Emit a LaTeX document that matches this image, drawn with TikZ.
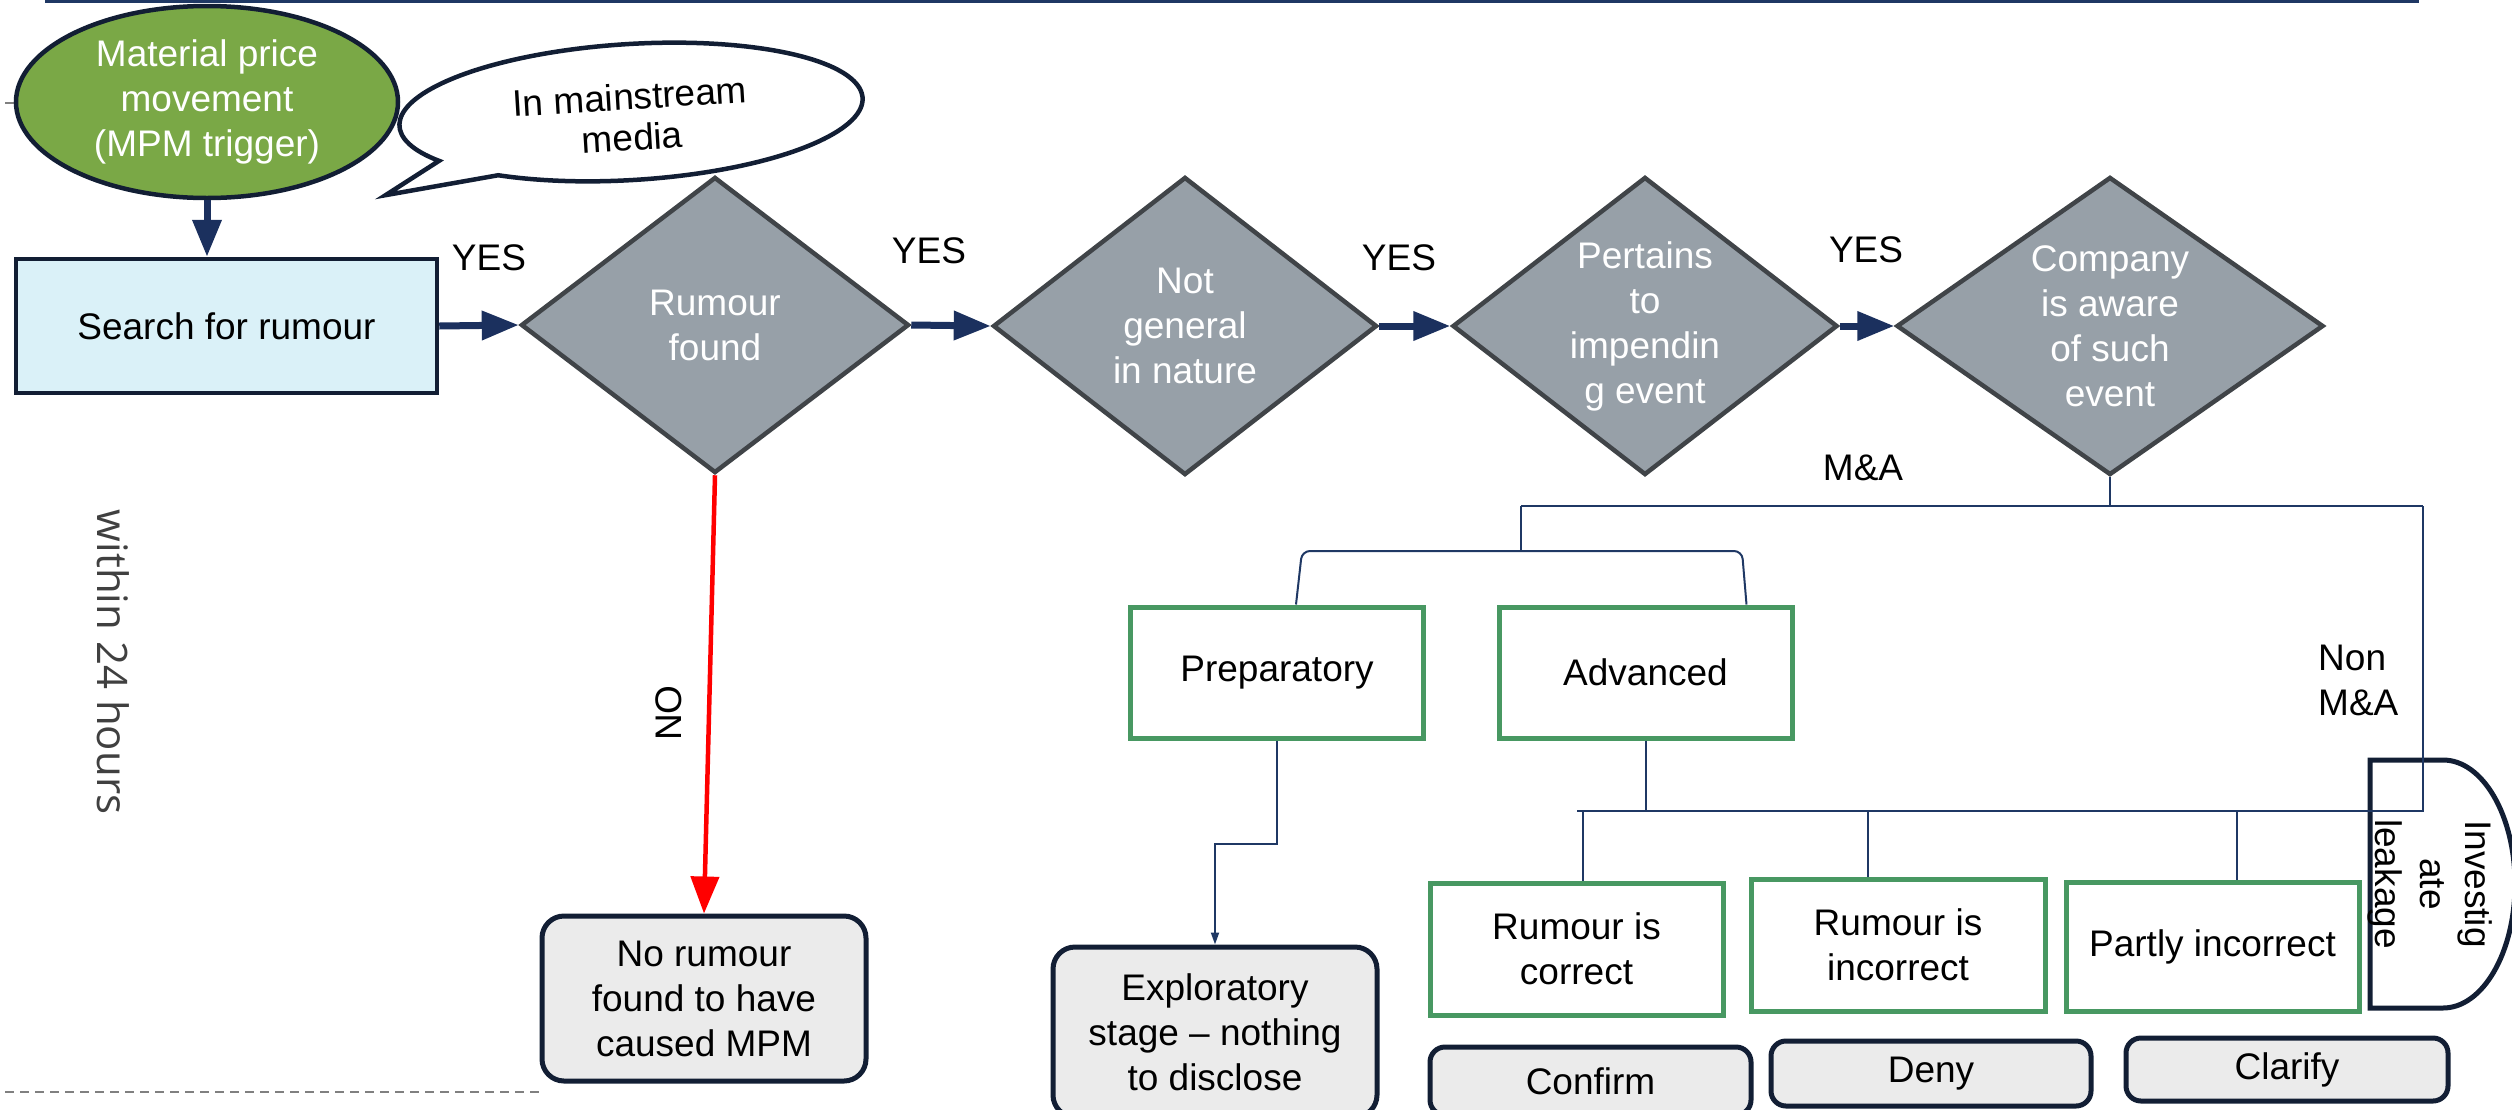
\documentclass[tikz,border=0pt]{standalone}
\usepackage{fontspec}
\setmainfont{Liberation Sans}
\newfontfamily\osans{Open Sans}
\usetikzlibrary{shapes.geometric,arrows.meta}

\definecolor{navy}{RGB}{18,30,52}
\definecolor{arrnavy}{RGB}{27,48,94}
\definecolor{connnavy}{RGB}{31,56,100}
\definecolor{trgreen}{RGB}{122,168,70}
\definecolor{dgrey}{RGB}{151,160,168}
\definecolor{dborder}{RGB}{64,68,72}
\definecolor{cyanfill}{RGB}{218,241,248}
\definecolor{bxgreen}{RGB}{72,152,98}
\definecolor{rfill}{RGB}{235,235,235}
\definecolor{txtgrey}{RGB}{64,64,64}

\begin{document}
\begin{tikzpicture}[x=1pt,y=-1pt,
  every node/.style={font=\fontsize{37}{45}\selectfont, align=center, inner sep=0pt},
  diam/.style={diamond, draw=dborder, line width=4.5pt, fill=dgrey, text=white},
  trigbox/.style={ellipse, draw=navy, line width=4.5pt, fill=trgreen, text=white},
  sbox/.style={rectangle, draw=navy, line width=4.5pt, fill=cyanfill},
  gbox/.style={rectangle, draw=bxgreen, line width=5pt, fill=white, minimum width=293pt},
  rbox/.style={rectangle, rounded corners=22pt, draw=navy, line width=5pt, fill=rfill},
  bigarrow/.style={arrnavy, line width=7pt, -{Triangle[length=37pt,width=28pt]}},
  redarrow/.style={red, line width=4.5pt, -{Triangle[length=37pt,width=28pt]}},
  conn/.style={connnavy, line width=2pt},
]
\useasboundingbox (0,0) rectangle (2512,1109);

% top rule and small tick
\coordinate (tl1) at (45,1.5);
\coordinate (tl2) at (2419,1.5);
\draw[connnavy, line width=3pt] (tl1) -- (tl2);
\coordinate (tk1) at (5,103);
\coordinate (tk2) at (15,103);
\draw[gray, line width=2pt] (tk1) -- (tk2);

% speech bubble
\begin{scope}[shift={(631,112)}, rotate=3.5]
  \draw[navy, line width=4.5pt, fill=white]
    (234:232pt and 68pt) arc[start angle=234, end angle=573, x radius=232pt, y radius=68pt]
    -- (-250pt,-68pt) -- cycle;
\end{scope}
\node[rotate=3.5, font=\fontsize{37}{41}\selectfont] (media) at (631,117) {In mainstream\\media};

% trigger
\node[trigbox, minimum width=382pt, minimum height=192pt] (trig) at (207,102) {Material price\\movement\\(MPM trigger)};

% main row
\node[sbox, minimum width=421pt, minimum height=134pt] (search) at (226.5,326) {Search for rumour};
\node[diam, minimum width=388pt, minimum height=296pt, shape aspect=1.31] (d1) at (715,325) {Rumour\\found};
\node[diam, minimum width=384pt, minimum height=298pt, shape aspect=1.29] (d2) at (1185,326) {Not\\general\\in nature};
\node[diam, minimum width=385pt, minimum height=298pt, shape aspect=1.29] (d3) at (1645,326) {Pertains\\to\\impendin\\g event};
\node[diam, minimum width=427pt, minimum height=298pt, shape aspect=1.43] (d4) at (2110,326) {Company\\is aware\\of such\\event};

\draw[bigarrow] (trig.south) -- (search.north -| trig.south);
\draw[bigarrow] (search.east) -- (d1.west);
\draw[bigarrow] (d1.east) -- (d2.west);
\draw[bigarrow] (d2.east) -- (d3.west);
\draw[bigarrow] (d3.east) -- (d4.west);

\node (yes1) at (489,258) {YES};
\node (yes2) at (929,251) {YES};
\node (yes3) at (1399,258) {YES};
\node (yes4) at (1866,250) {YES};

% NO branch
\node[rbox, minimum width=324pt, minimum height=165pt] (nor) at (704,998.5) {No rumour\\found to have\\caused MPM};
\draw[redarrow] (d1.south) -- (nor.north);
\node[rotate=90] (no) at (669,713) {NO};

% side text and dashed rule
\node[rotate=-90, font=\osans\fontsize{42}{50}\selectfont, text=txtgrey] (hrs) at (113,662) {within 24 hours};
\coordinate (ds1) at (5,1092);
\coordinate (ds2) at (542,1092);
\draw[gray, line width=2pt, dash pattern=on 9pt off 6pt] (ds1) -- (ds2);

% lower tree boxes
\node[gbox, minimum height=131pt] (prep) at (1277,672.5) {Preparatory};
\node[gbox, minimum height=131pt] (adv) at (1645.5,672.5) {Advanced};
\node[gbox, minimum height=132pt] (rc) at (1576.5,949) {Rumour is\\correct};
\node[gbox, minimum width=294pt, minimum height=132pt] (ri) at (1898,945) {Rumour is\\incorrect};
\node[gbox, minimum height=129pt] (pi) at (2212.5,946.5) {Partly incorrect};
\node[rbox, minimum width=324pt, minimum height=170pt] (expl) at (1215,1032) {Exploratory\\stage – nothing\\to disclose};
\node[rbox, rounded corners=15pt, minimum width=321pt, minimum height=68pt] (conf) at (1590.5,1081) {Confirm};
\node[rbox, rounded corners=15pt, minimum width=320pt, minimum height=65pt] (deny) at (1931,1073.5) {Deny};
\node[rbox, rounded corners=15pt, minimum width=322pt, minimum height=63pt] (clar) at (2287,1069.5) {Clarify};

% investigate leakage shape
\coordinate (iv1) at (2443,760);
\coordinate (iv2) at (2370,760);
\coordinate (iv3) at (2370,1008);
\coordinate (iv4) at (2443,1008);
\draw[navy, line width=5pt] (iv1) -- (iv2) -- (iv3) -- (iv4)
  arc[start angle=-90, end angle=90, x radius=72pt, y radius=124pt] -- cycle;
\node[rotate=-90] (inv) at (2430,884) {Investig\\ate\\leakage};

% tree connectors
\coordinate (j0) at (2110,506);
\coordinate (jl) at (1521,506);
\coordinate (jr) at (2423,506);
\coordinate (b0) at (1521,551);
\coordinate (bl) at (1302,551);
\coordinate (br) at (1742,551);
\coordinate (r1) at (2423,811);
\coordinate (h1) at (1577,811);
\draw[conn] (d4.south) -- (j0);
\draw[conn] (jl) -- (jr);
\draw[conn] (jl) -- (b0);
\draw[conn, rounded corners=8pt] ([xshift=19pt]prep.north) -- (bl) -- (br) -- ([xshift=101pt]adv.north);
\draw[conn] (jr) -- (r1) -- (h1);
\draw[conn] (adv.south) -- (adv.south |- r1);
\draw[conn] ([xshift=6.5pt]rc.north |- r1) -- ([xshift=6.5pt]rc.north);
\draw[conn] ([xshift=-30pt]ri.north |- r1) -- ([xshift=-30pt]ri.north);
\draw[conn] ([xshift=24.5pt]pi.north |- r1) -- ([xshift=24.5pt]pi.north);
\draw[conn, -{Triangle[length=12pt,width=8pt]}] (prep.south) -- ++(0,103) -| (expl.north);

\node (ma) at (1863,468) {M\&A};
\node[anchor=west, align=left] (nonma) at (2318,680) {Non\\M\&A};
\end{tikzpicture}
\end{document}
